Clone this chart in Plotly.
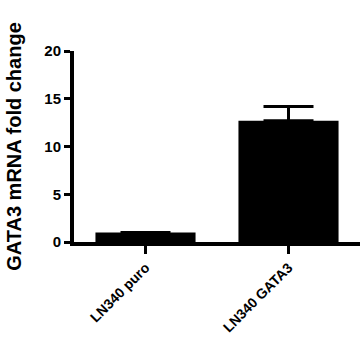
import plotly.graph_objects as go

categories = ["LN340 puro", "LN340 GATA3"]
fold_change = [1.0, 12.7]
sem_upper = [0.0, 1.5]
y_ticks = [0, 5, 10, 15, 20]

font_family = "Liberation Sans, Arial, sans-serif"

fig = go.Figure(
    go.Bar(
        x=categories,
        y=fold_change,
        width=0.7,
        marker=dict(color="black", line=dict(width=0)),
        error_y=dict(
            type="data",
            symmetric=False,
            array=sem_upper,
            arrayminus=[0, 0],
            color="black",
            thickness=3,
            width=25,
        ),
    )
)

fig.update_layout(
    width=360,
    height=338,
    margin=dict(l=74, r=0, t=51, b=96),
    plot_bgcolor="white",
    paper_bgcolor="white",
    showlegend=False,
    font=dict(family=font_family, color="black"),
    xaxis=dict(
        range=[-0.5, 1.5],
        tickvals=categories,
        ticktext=["<b>" + c + "</b>" for c in categories],
        showline=True,
        linewidth=4,
        linecolor="black",
        ticks="outside",
        ticklen=8,
        tickwidth=3,
        tickcolor="black",
        tickangle=-45,
        tickfont=dict(size=14, family=font_family),
        showgrid=False,
        zeroline=False,
        automargin=False,
    ),
    yaxis=dict(
        range=[0, 20],
        tickvals=y_ticks,
        ticktext=["<b>%d</b>" % v for v in y_ticks],
        showline=True,
        linewidth=4,
        linecolor="black",
        ticks="outside",
        ticklen=6,
        tickwidth=3,
        tickcolor="black",
        tickfont=dict(size=15, family=font_family),
        showgrid=False,
        zeroline=False,
        automargin=False,
        title=dict(
            text="<b>GATA3 mRNA fold change</b>",
            font=dict(size=20, family=font_family),
            standoff=18,
        ),
    ),
)

fig.write_html(
    "out.html",
    config={"displayModeBar": False},
    post_script="document.body.style.margin='0px';",
)
